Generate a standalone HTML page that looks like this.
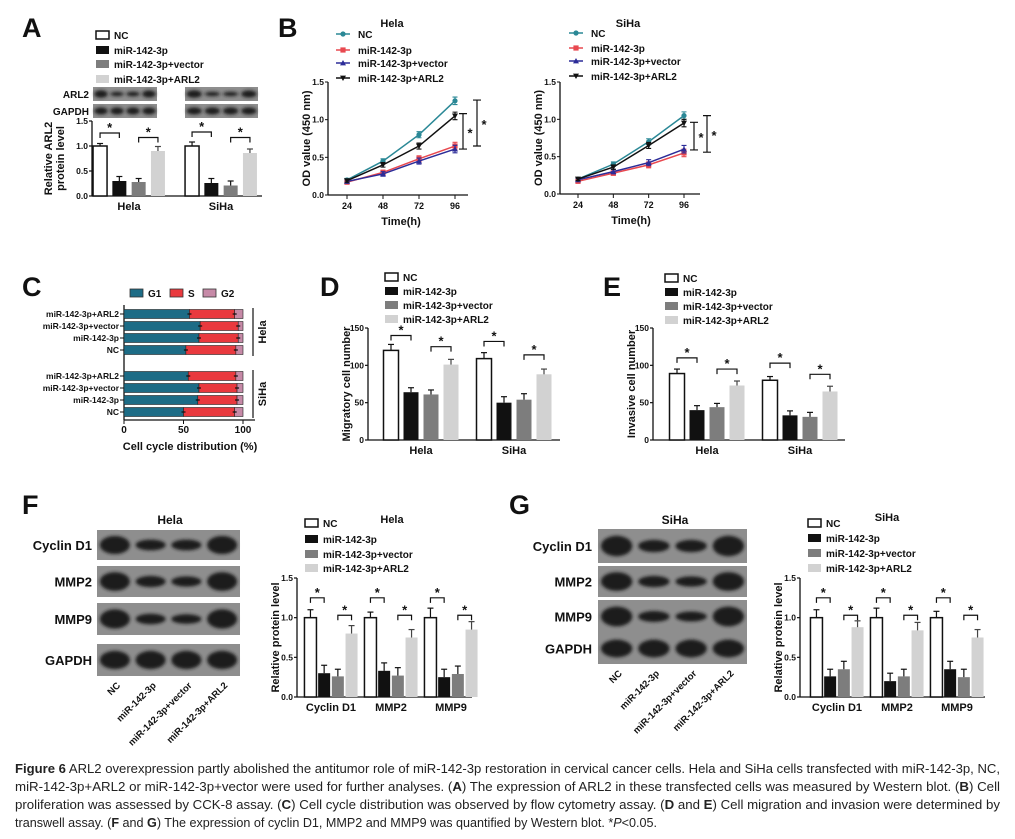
<!DOCTYPE html>
<html><head><meta charset="utf-8">
<style>
html,body{margin:0;padding:0;background:#fff;}
svg{display:block;font-family:"Liberation Sans",Arial,sans-serif;}
</style></head>
<body>
<svg id="fig" width="1015" height="839" viewBox="0 0 1015 839" xmlns="http://www.w3.org/2000/svg">
<defs>
<filter id="blur" x="-30%" y="-60%" width="160%" height="220%"><feGaussianBlur stdDeviation="1.6"/></filter>
</defs>
<g id="caption" font-size="13" fill="#222">
<text x="15" y="773" textLength="985" lengthAdjust="spacingAndGlyphs"><tspan font-weight="bold">Figure 6</tspan> ARL2 overexpression partly abolished the antitumor role of miR-142-3p restoration in cervical cancer cells. Hela and SiHa cells transfected with miR-142-3p, NC,</text>
<text x="15" y="791" textLength="985" lengthAdjust="spacingAndGlyphs">miR-142-3p+ARL2 or miR-142-3p+vector were used for further analyses. (<tspan font-weight="bold">A</tspan>) The expression of ARL2 in these transfected cells was measured by Western blot. (<tspan font-weight="bold">B</tspan>) Cell</text>
<text x="15" y="809" textLength="985" lengthAdjust="spacingAndGlyphs">proliferation was assessed by CCK-8 assay. (<tspan font-weight="bold">C</tspan>) Cell cycle distribution was observed by flow cytometry assay. (<tspan font-weight="bold">D</tspan> and <tspan font-weight="bold">E</tspan>) Cell migration and invasion were determined by</text>
<text x="15" y="827" textLength="642" lengthAdjust="spacingAndGlyphs">transwell assay. (<tspan font-weight="bold">F</tspan> and <tspan font-weight="bold">G</tspan>) The expression of cyclin D1, MMP2 and MMP9 was quantified by Western blot. *<tspan font-style="italic">P</tspan>&lt;0.05.</text>
</g>
</svg>
<script>
// ---------- DATA ----------
const seriesNames = ["NC","miR-142-3p","miR-142-3p+vector","miR-142-3p+ARL2"];
// Panel A
const aGroups = ["Hela","SiHa"];
const aNC = [1.0,1.0], aMiR=[0.30,0.26], aVec=[0.28,0.21], aARL2=[0.90,0.86];
const aNCe=[0.05,0.08], aMiRe=[0.09,0.09], aVece=[0.07,0.09], aARL2e=[0.09,0.08];
const aTicks=[0,0.5,1.0,1.5];
// Panel B
const bTimes=[24,48,72,96];
const bHelaNC=[0.20,0.45,0.80,1.25], bHelaMiR=[0.17,0.30,0.48,0.65], bHelaVec=[0.18,0.28,0.45,0.61], bHelaARL2=[0.19,0.40,0.65,1.05];
const bSihaNC=[0.20,0.40,0.70,1.05], bSihaMiR=[0.17,0.28,0.39,0.55], bSihaVec=[0.19,0.30,0.42,0.60], bSihaARL2=[0.20,0.36,0.65,0.95];
const bTicks=[0,0.5,1.0,1.5];
// Panel C
const cRows=["miR-142-3p+ARL2","miR-142-3p+vector","miR-142-3p","NC"];
const cHelaG1=[55,64,63,52], cHelaS=[38,32,33,42];
const cSihaG1=[54,63,62,50], cSihaS=[40,32,33,43];
const cTicks=[0,50,100];
// Panel D
const dNC=[120,109], dMiR=[64,50], dVec=[61,54], dARL2=[101,88];
const dNCe=[8,8], dMiRe=[6,8], dVece=[6,8], dARL2e=[7,7];
// Panel E
const eNC=[89,80], eMiR=[40,33], eVec=[44,31], eARL2=[73,65];
const eNCe=[6,5], eMiRe=[6,6], eVece=[5,6], eARL2e=[6,7];
const deTicks=[0,50,100,150];
// Panel F / G
const fgGroups=["Cyclin D1","MMP2","MMP9"];
const fNC=[1.0,1.0,1.0], fMiR=[0.30,0.33,0.25], fVec=[0.26,0.27,0.29], fARL2=[0.80,0.75,0.85];
const fNCe=[0.10,0.07,0.12], fMiRe=[0.10,0.10,0.10], fVece=[0.09,0.10,0.10], fARL2e=[0.10,0.10,0.10];
const gNC=[1.0,1.0,1.0], gMiR=[0.26,0.20,0.35], gVec=[0.35,0.26,0.25], gARL2=[0.88,0.84,0.75];
const gNCe=[0.10,0.12,0.08], gMiRe=[0.09,0.10,0.10], gVece=[0.10,0.09,0.10], gARL2e=[0.08,0.10,0.10];
const fgTicks=[0,0.5,1.0,1.5];

// ---------- HELPERS ----------
const NS="http://www.w3.org/2000/svg";
const svg=document.getElementById('fig');
function el(tag,attrs,parent,txt){const e=document.createElementNS(NS,tag);for(const k in attrs)e.setAttribute(k,attrs[k]);if(txt!==undefined)e.textContent=txt;(parent||svg).appendChild(e);return e;}
function grp(name,parent){const g=el('g',{},parent);


return g;}
function txt(parent,name,x,y,s,size,anchor,extra){const t=el('text',Object.assign({x:x,y:y,'font-size':size,'font-weight':'bold','text-anchor':anchor||'start',fill:'#111'},extra||{}),parent,s);


return t;}
const barFill=['#fff','#111','#7d7d7d','#d2d2d2'];

function legendBars(parent,x,ys,tx){
  for(let i=0;i<4;i++){
    const r=el('rect',{x:x,y:ys[i]-4,width:13,height:8,fill:barFill[i],stroke:i===0?'#111':'none','stroke-width':1.5},parent);
    
    
    txt(parent,'legend-label',tx,ys[i]+4,seriesNames[i],10);
  }
}

function barChart(o){
  const g=grp(o.name);
  const y=v=>o.y0-(v/o.vmax)*(o.y0-o.yTop);
  el('line',{x1:o.x0,y1:o.yTop,x2:o.x0,y2:o.y0,stroke:'#111','stroke-width':1.3},g);
  el('line',{x1:o.x0,y1:o.y0,x2:o.xEnd,y2:o.y0,stroke:'#111','stroke-width':1.3},g);
  o.ticks.forEach(t=>{el('line',{x1:o.x0-3,y1:y(t),x2:o.x0,y2:y(t),stroke:'#111','stroke-width':1.2},g);
    txt(g,'y-tick-label',o.x0-4,y(t)+3,o.intTicks?String(t):t.toFixed(1),8.5,'end');});
  const yt=txt(g,'y-axis-title',0,0,'',o.ytSize||11,'middle',{transform:`translate(${o.ytX},${(o.yTop+o.y0)/2}) rotate(-90)`});
  if(Array.isArray(o.ytitle)){o.ytitle.forEach((s,i)=>{el('tspan',{x:0,dy:i?12:-2},yt,s);});}else yt.textContent=o.ytitle;
  const bc=(gi,si)=>o.gc(gi)+(si-1.5)*o.step;
  o.groups.forEach((gn,gi)=>{
    txt(g,'x-category-label',o.gc(gi),o.y0+14,gn,o.catSize||11,'middle');
    o.vals.forEach((arr,si)=>{
      const v=arr[gi],e=o.errs[si][gi],cx=bc(gi,si);
      const r=el('rect',{x:cx-o.bw/2,y:y(v),width:o.bw,height:o.y0-y(v),fill:barFill[si],stroke:si===0?'#111':'none','stroke-width':1.5},g);
      
      
      const ec=barFill[si]==='#d2d2d2'?'#444':'#111';
      el('line',{x1:cx,y1:y(v),x2:cx,y2:y(v+e),stroke:ec,'stroke-width':1.2},g);
      el('line',{x1:cx-3,y1:y(v+e),x2:cx+3,y2:y(v+e),stroke:ec,'stroke-width':1.2},g);
    });
    o.brackets[gi].forEach((bv,k)=>{
      const s1=k===0?0:2,s2=k===0?1:3,x1=bc(gi,s1),x2=bc(gi,s2),yy=y(bv);
      el('path',{d:`M${x1} ${yy+5}V${yy}H${x2}V${yy+5}`,fill:'none',stroke:'#111','stroke-width':1.2},g);
      txt(g,'significance-star',(x1+x2)/2,yy-1,'*',13,'middle');
    });
  });
  legendBars(g,o.lx,o.ly,o.lx+18);
}

function marker(parent,type,x,y,c){
  if(type==0) el('circle',{cx:x,cy:y,r:2.6,fill:c},parent);
  else if(type==1) el('rect',{x:x-2.6,y:y-2.6,width:5.2,height:5.2,fill:c},parent);
  else if(type==2) el('path',{d:`M${x} ${y-3}L${x+3} ${y+2.4}L${x-3} ${y+2.4}Z`,fill:c},parent);
  else el('path',{d:`M${x} ${y+3}L${x+3} ${y-2.4}L${x-3} ${y-2.4}Z`,fill:c},parent);
}
const lineCols=['#2a8896','#e8484f','#2c2c98','#111'];
function lineChart(o){
  const g=grp(o.name);
  const y=v=>o.y0-(v/1.5)*(o.y0-o.yTop);
  const x=t=>o.xa+(t-24)/(72)*(o.xb-o.xa);
  el('line',{x1:o.x0,y1:o.yTop,x2:o.x0,y2:o.y0,stroke:'#111','stroke-width':1.3},g);
  el('line',{x1:o.x0,y1:o.y0,x2:o.xEnd,y2:o.y0,stroke:'#111','stroke-width':1.3},g);
  bTicks.forEach(t=>{el('line',{x1:o.x0-3,y1:y(t),x2:o.x0,y2:y(t),stroke:'#111'},g);txt(g,'y-tick-label',o.x0-4,y(t)+3,t.toFixed(1),8.5,'end');});
  bTimes.forEach(t=>{el('line',{x1:x(t),y1:o.y0,x2:x(t),y2:o.y0+4,stroke:'#111'},g);txt(g,'x-tick-label',x(t),o.y0+14,String(t),9,'middle');});
  txt(g,'x-axis-title',(o.xa+o.xb)/2,o.y0+30,'Time(h)',11,'middle');
  txt(g,'y-axis-title',0,0,'OD value (450 nm)',11,'middle',{transform:`translate(${o.x0-18},${(o.yTop+o.y0)/2}) rotate(-90)`});
  txt(g,'chart-title',o.titleX,27,o.title,11,'middle');
  o.series.forEach((arr,si)=>{
    const p=el('polyline',{points:arr.map((v,i)=>x(bTimes[i])+','+y(v)).join(' '),fill:'none',stroke:lineCols[si],'stroke-width':1.5},g);
    
    
    arr.forEach((v,i)=>{const e=0.02+0.03*i/3;
      el('path',{d:`M${x(bTimes[i])} ${y(v-e)}V${y(v+e)}M${x(bTimes[i])-2.5} ${y(v+e)}h5M${x(bTimes[i])-2.5} ${y(v-e)}h5`,stroke:lineCols[si],'stroke-width':1.1},g);
      marker(g,si,x(bTimes[i]),y(v),lineCols[si]);});
    el('line',{x1:o.lx-7,y1:o.ly[si],x2:o.lx+7,y2:o.ly[si],stroke:lineCols[si],'stroke-width':1.5},g);
    marker(g,si,o.lx,o.ly[si],lineCols[si]);
    txt(g,'legend-label',o.lx+15,o.ly[si]+4,seriesNames[si],10);
  });
  o.brk.forEach(b=>{
    el('path',{d:`M${b[0]-4} ${y(b[1])}h8M${b[0]} ${y(b[1])}V${y(b[2])}M${b[0]-4} ${y(b[2])}h8`,stroke:'#111','stroke-width':1.2,fill:'none'},g);
    txt(g,'significance-star',b[0]+7,(y(b[1])+y(b[2]))/2+6,'*',13,'middle');
  });
}

function blot(name,x,y,w,h,ints){
  const g=grp(name);
  el('rect',{x:x,y:y,width:w,height:h,fill:'#8e8e8e'},g);
  const lw=w/ints.length;
  ints.forEach((k,i)=>{
    el('ellipse',{cx:x+lw*(i+0.5),cy:y+h/2,rx:lw*0.42,ry:h*0.3*k,fill:'#1a1a1a',filter:'url(#blur)'},g);
  });
}
function panelLetter(s,x,y){txt(svg,'panel-label-'+s.toLowerCase(),x,y,s,27,'start');}

// ---------- PANEL A ----------
panelLetter('A',22,37);
blot('blot-arl2-hela',93,87,64,14,[0.9,0.5,0.55,0.85]);
blot('blot-gapdh-hela',93,104,64,14,[0.85,0.85,0.85,0.85]);
blot('blot-arl2-siha',185,87,73,14,[0.9,0.5,0.5,0.85]);
blot('blot-gapdh-siha',185,104,73,14,[0.85,0.85,0.85,0.85]);
txt(svg,'blot-label-arl2',89,98,'ARL2',10,'end');
txt(svg,'blot-label-gapdh',89,115,'GAPDH',10,'end');
barChart({name:'chart-a',x0:92,xEnd:262,y0:196,yTop:121,vmax:1.5,ticks:aTicks,groups:aGroups,
  gc:i=>129+i*92,step:19.3,bw:14,vals:[aNC,aMiR,aVec,aARL2],errs:[aNCe,aMiRe,aVece,aARL2e],
  brackets:[[1.26,1.17],[1.28,1.17]],ytitle:['Relative ARL2','protein level'],ytX:54,
  lx:96,ly:[35,50,64,79]});

// ---------- PANEL B ----------
panelLetter('B',278,37);
lineChart({name:'chart-b-hela',x0:328,xEnd:468,y0:195,yTop:82,xa:347,xb:455,title:'Hela',titleX:392,
  series:[bHelaNC,bHelaMiR,bHelaVec,bHelaARL2],lx:343,ly:[34,50,63,78],brk:[[463,1.08,0.61],[477,1.26,0.65]]});
lineChart({name:'chart-b-siha',x0:560,xEnd:700,y0:194,yTop:82,xa:578,xb:684,title:'SiHa',titleX:628,
  series:[bSihaNC,bSihaMiR,bSihaVec,bSihaARL2],lx:576,ly:[33,48,61,76],brk:[[694,0.96,0.59],[707,1.05,0.56]]});

// ---------- PANEL C ----------
panelLetter('C',22,296);
(function(){
  const g=grp('chart-c');
  const x=v=>124+v/100*119;
  const cols=['#1d6c86','#e9393e','#c68aa7'];
  ['G1','S','G2'].forEach((n,i)=>{const lx=[130,170,203][i];
    el('rect',{x:lx,y:289,width:13,height:8,fill:cols[i],stroke:'#333','stroke-width':0.8},g);
    txt(g,'legend-label',lx+18,297,n,10);});
  el('line',{x1:124,y1:305,x2:124,y2:420,stroke:'#111','stroke-width':1.3},g);
  el('line',{x1:124,y1:420,x2:255,y2:420,stroke:'#111','stroke-width':1.3},g);
  cTicks.forEach(t=>{el('line',{x1:x(t),y1:420,x2:x(t),y2:424,stroke:'#111'},g);txt(g,'x-tick-label',x(t),433,String(t),10,'middle');});
  txt(g,'x-axis-title',190,450,'Cell cycle distribution (%)',11,'middle');
  const draw=(g1s,ss,ys)=>{cRows.forEach((r,i)=>{const yy=ys[i],g1=g1s[i],s=ss[i];
    el('rect',{x:x(0),y:yy-4.5,width:x(g1)-x(0),height:9,fill:cols[0],stroke:'#222','stroke-width':0.6},g);
    el('rect',{x:x(g1),y:yy-4.5,width:x(g1+s)-x(g1),height:9,fill:cols[1],stroke:'#222','stroke-width':0.6},g);
    el('rect',{x:x(g1+s),y:yy-4.5,width:x(100)-x(g1+s),height:9,fill:cols[2],stroke:'#222','stroke-width':0.6},g);
    el('path',{d:`M${x(g1)-2} ${yy}h4M${x(g1+s)-2} ${yy}h4`,stroke:'#111','stroke-width':1.2},g);
    el('line',{x1:120,y1:yy,x2:124,y2:yy,stroke:'#111'},g);
    txt(g,'row-label',119,yy+3,r,8.5,'end');});};
  draw(cHelaG1,cHelaS,[314,326,338,350]);
  draw(cSihaG1,cSihaS,[376,388,400,412]);
  el('line',{x1:253,y1:308,x2:253,y2:356,stroke:'#111','stroke-width':1.2},g);
  el('line',{x1:253,y1:370,x2:253,y2:418,stroke:'#111','stroke-width':1.2},g);
  txt(g,'group-label-hela',0,0,'Hela',11,'middle',{transform:'translate(266,332) rotate(-90)'});
  txt(g,'group-label-siha',0,0,'SiHa',11,'middle',{transform:'translate(266,394) rotate(-90)'});
})();

// ---------- PANEL D / E ----------
panelLetter('D',320,296);
barChart({name:'chart-d',x0:368,xEnd:560,y0:440,yTop:328,vmax:150,ticks:deTicks,intTicks:true,groups:aGroups,
  gc:i=>421+i*93,step:20,bw:15,vals:[dNC,dMiR,dVec,dARL2],errs:[dNCe,dMiRe,dVece,dARL2e],
  brackets:[[140,125],[132,114]],ytitle:'Migratory cell number',ytX:350,lx:385,ly:[277,291,305,319]});
panelLetter('E',603,296);
barChart({name:'chart-e',x0:653,xEnd:845,y0:440,yTop:328,vmax:150,ticks:deTicks,intTicks:true,groups:aGroups,
  gc:i=>707+i*93,step:20,bw:15,vals:[eNC,eMiR,eVec,eARL2],errs:[eNCe,eMiRe,eVece,eARL2e],
  brackets:[[110,95],[103,88]],ytitle:'Invasive cell number',ytX:635,lx:665,ly:[278,292,306,320]});

// ---------- PANEL F / G ----------
function blotSet(pfx,x,w,ys,labX,title,titleX){
  const ints=[[1,0.6,0.6,1],[1,0.6,0.55,1],[1,0.55,0.5,1],[0.95,0.95,0.95,0.95]];
  const names=['Cyclin D1','MMP2','MMP9','GAPDH'];
  ys.forEach((yy,i)=>{blot(pfx+'-blot-'+names[i].toLowerCase().replace(/\s/g,''),x,yy[0],w,yy[1]-yy[0],ints[i]);
    txt(svg,'blot-label',labX,(yy[0]+yy[1])/2+5,names[i],13,'end');});
  txt(svg,'blot-title',titleX,524,title,12,'middle');
  seriesNames.forEach((n,i)=>{const lx=x+w/8+i*w/4;
    txt(svg,'lane-label',0,0,n,9.5,'end',{transform:`translate(${lx+6},${ys[3][1]+10}) rotate(-45)`});});
}
panelLetter('F',22,514);
blotSet('f',97,143,[[530,560],[566,597],[603,635],[644,676]],92,'Hela',170);
barChart({name:'chart-f',x0:297,xEnd:472,y0:697,yTop:578,vmax:1.5,ticks:fgTicks,groups:fgGroups,
  gc:i=>331+i*60,step:13.7,bw:12,vals:[fNC,fMiR,fVec,fARL2],errs:[fNCe,fMiRe,fVece,fARL2e],
  brackets:[[1.25,1.03],[1.25,1.03],[1.25,1.03]],ytitle:'Relative protein level',ytX:279,catSize:11,
  lx:305,ly:[523,539,554,568]});
txt(svg,'chart-title-f',392,523,'Hela',11,'middle');
panelLetter('G',509,514);
blotSet('g',598,149,[[529,563],[566,597],[600,633],[633,664]],592,'SiHa',675);
barChart({name:'chart-g',x0:800,xEnd:985,y0:697,yTop:578,vmax:1.5,ticks:fgTicks,groups:fgGroups,
  gc:i=>837+i*60,step:13.7,bw:12,vals:[gNC,gMiR,gVec,gARL2],errs:[gNCe,gMiRe,gVece,gARL2e],
  brackets:[[1.25,1.03],[1.25,1.03],[1.25,1.03]],ytitle:'Relative protein level',ytX:782,catSize:11,
  lx:808,ly:[523,538,553,568]});
txt(svg,'chart-title-g',887,521,'SiHa',11,'middle');
</script>
</body></html>
